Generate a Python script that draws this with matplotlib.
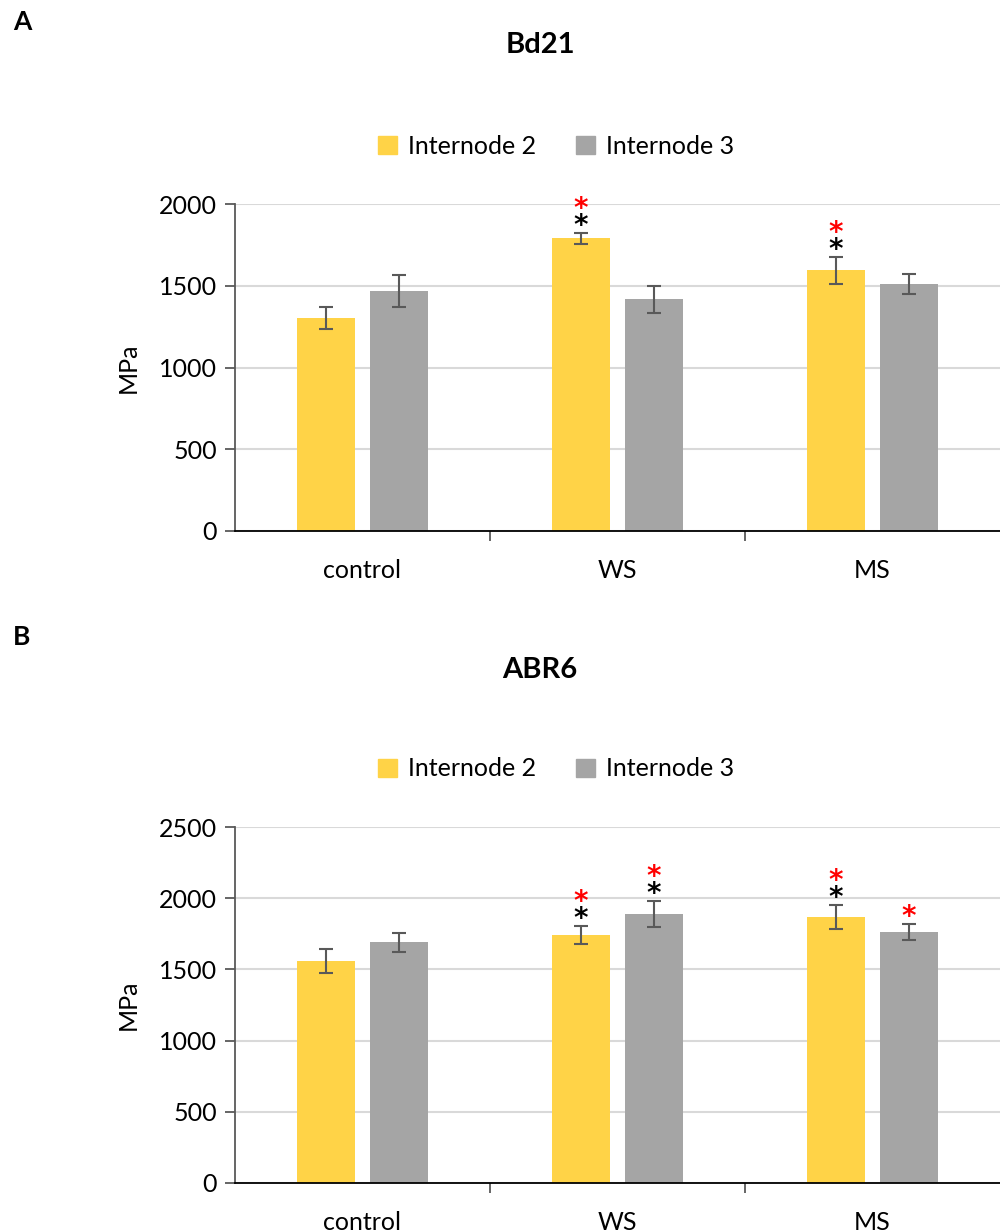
import matplotlib.pyplot as plt
import numpy as np

plt.rcParams['font.family'] = ['Lato', 'DejaVu Sans']

categories = ['control', 'WS', 'MS']
series_names = ['Internode 2', 'Internode 3']

bd21_i2 = [1301, 1790, 1594]
bd21_i2_err = [68, 33, 82]
bd21_i3 = [1468, 1417, 1509]
bd21_i3_err = [95, 82, 62]

abr6_i2 = [1559, 1742, 1868]
abr6_i2_err = [83, 65, 85]
abr6_i3 = [1690, 1891, 1765]
abr6_i3_err = [65, 92, 57]

# significance marks per bar: (black, red)
bd21_i2_sig = [(False, False), (True, True), (True, True)]
bd21_i3_sig = [(False, False), (False, False), (False, False)]
abr6_i2_sig = [(False, False), (True, True), (True, True)]
abr6_i3_sig = [(False, False), (True, True), (False, True)]

YELLOW = '#FFD347'
GRAY = '#A5A5A5'
ERR = '#595959'
GRID = '#D9D9D9'
FS = 18

fig = plt.figure(figsize=(10, 12.32), dpi=100)


def star(ax, x, y, dy, color):
    ax.annotate('*', (x, y), xytext=(0, dy), textcoords='offset points',
                ha='center', va='center', fontsize=20, color=color,
                fontweight='bold', family='DejaVu Sans')


def panel(rect, title, letter, letter_y, title_y, legend_y, s1, e1, s2, e2,
          sig1, sig2, ymax, ystep):
    ax = fig.add_axes(rect)
    x = np.arange(len(categories))
    w = 0.23
    off = 0.143
    for xs, vals, errs, col, sigs in [(x - off, s1, e1, YELLOW, sig1),
                                      (x + off, s2, e2, GRAY, sig2)]:
        ax.bar(xs, vals, width=w, color=col, zorder=2)
        ax.errorbar(xs, vals, yerr=errs, fmt='none', ecolor=ERR, elinewidth=1.5,
                    capsize=5, capthick=1.5, zorder=3)
        for xi, v, e, (blk, red) in zip(xs, vals, errs, sigs):
            top = v + e
            if blk:
                star(ax, xi, top, 5, 'black')
            if red:
                star(ax, xi, top, 17 if blk else 5, '#FF0000')
    ax.set_xlim(-0.5, len(categories) - 0.5)
    ax.set_ylim(0, ymax)
    ax.set_yticks(np.arange(0, ymax + 1, ystep))
    ax.yaxis.grid(True, color=GRID, linewidth=1.5, zorder=0)
    ax.set_axisbelow(True)
    for s in ['top', 'right']:
        ax.spines[s].set_visible(False)
    ax.spines['left'].set_color(ERR)
    ax.spines['left'].set_linewidth(1.3)
    ax.spines['bottom'].set_color('black')
    ax.spines['bottom'].set_linewidth(1.3)
    ax.set_xticks(x)
    ax.set_xticklabels(categories, fontsize=FS)
    ax.tick_params(axis='x', length=0, pad=20)
    ax.set_xticks(np.arange(0.5, len(categories) - 0.5, 1), minor=True)
    ax.tick_params(axis='x', which='minor', length=7, width=1.3, color=ERR)
    ax.tick_params(axis='y', labelsize=FS, length=7, width=1.3, color=ERR, pad=6)
    ax.set_ylabel('MPa', fontsize=FS, labelpad=14)
    handles = [plt.Rectangle((0, 0), 1, 1, color=YELLOW),
               plt.Rectangle((0, 0), 1, 1, color=GRAY)]
    fig.legend(handles, series_names, loc='center', bbox_to_anchor=(0.556, legend_y),
               ncol=2, frameon=False, fontsize=FS, handlelength=0.75, handleheight=0.75,
               handletextpad=0.45, columnspacing=1.6)
    fig.text(0.54, title_y, title, ha='center', va='center', fontsize=21,
             fontweight='bold')
    fig.text(0.022, letter_y, letter, ha='center', va='center', fontsize=19,
             fontweight='bold')
    return ax


panel([0.235, 0.569, 0.765, 0.2654], 'Bd21', 'A', 1 - 22 / 1232, 1 - 45 / 1232,
      1 - 146 / 1232, bd21_i2, bd21_i2_err, bd21_i3, bd21_i3_err,
      bd21_i2_sig, bd21_i3_sig, 2000, 500)
panel([0.235, 0.0398, 0.765, 0.2889], 'ABR6', 'B', 1 - 637 / 1232, 1 - 670 / 1232,
      1 - 769 / 1232, abr6_i2, abr6_i2_err, abr6_i3, abr6_i3_err,
      abr6_i2_sig, abr6_i3_sig, 2500, 500)

fig.savefig('out.png', dpi=100)
